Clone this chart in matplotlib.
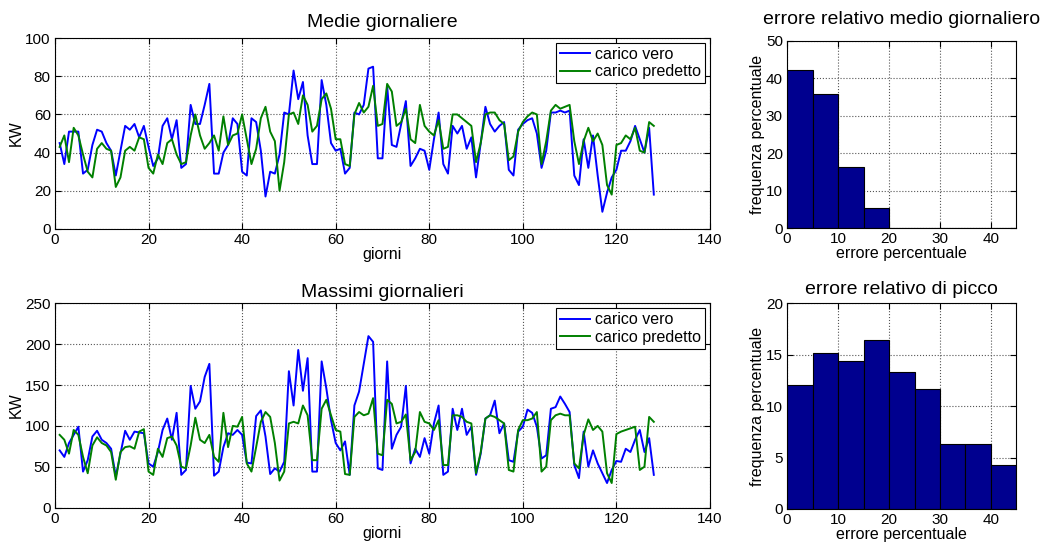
import matplotlib
matplotlib.use('Agg')
import matplotlib.pyplot as plt
import numpy as np

plt.rcParams['font.family'] = ['Liberation Sans', 'DejaVu Sans']

# Medie giornaliere (KW)
medie_vero = [45, 34, 51, 51, 51, 29, 31, 44, 52, 51, 45, 41, 28, 41, 54, 52, 55, 48, 54, 43,
              33, 37, 54, 58, 47, 57, 32, 34, 65, 55, 55, 65, 76, 29, 29, 40, 44, 58, 55, 30,
              28, 58, 56, 41, 17, 30, 29, 39, 61, 60, 83, 68, 77, 49, 34, 34, 78, 65, 45, 41,
              42, 29, 32, 61, 60, 65, 84, 85, 37, 37, 75, 44, 43, 55, 67, 33, 37, 42, 41, 31,
              47, 61, 34, 29, 54, 50, 54, 42, 48, 27, 45, 64, 55, 51, 54, 56, 31, 28, 52, 55,
              57, 58, 50, 32, 41, 61, 61, 62, 61, 62, 28, 23, 47, 32, 49, 28, 9, 19, 27, 31,
              41, 41, 46, 54, 47, 40, 53, 18]
medie_pred = [43, 49, 35, 53, 49, 39, 30, 27, 42, 45, 42, 41, 22, 27, 41, 43, 41, 48, 47, 32,
              29, 39, 34, 45, 47, 39, 34, 35, 49, 60, 49, 42, 45, 49, 41, 59, 44, 49, 50, 60,
              47, 34, 42, 58, 64, 51, 46, 20, 35, 60, 61, 55, 70, 65, 51, 54, 68, 71, 63, 47,
              47, 34, 33, 60, 66, 61, 64, 75, 54, 55, 76, 72, 54, 56, 63, 47, 45, 65, 54, 51,
              49, 57, 42, 43, 60, 60, 58, 56, 54, 35, 45, 60, 61, 61, 57, 55, 36, 38, 51, 56,
              59, 61, 60, 34, 46, 62, 65, 63, 64, 65, 46, 34, 46, 53, 46, 50, 44, 23, 18, 44,
              45, 49, 47, 53, 41, 40, 56, 54]

# Massimi giornalieri (KW)
massimi_vero = [70, 62, 79, 89, 99, 44, 58, 87, 94, 83, 79, 72, 38, 66, 94, 83, 93, 92, 91, 54,
                50, 68, 95, 109, 83, 116, 40, 46, 149, 121, 130, 160, 176, 39, 44, 74, 91, 89, 95, 89,
                55, 54, 112, 119, 87, 41, 48, 44, 56, 167, 125, 193, 143, 183, 44, 44, 179, 146, 107, 79,
                70, 81, 40, 125, 142, 176, 210, 203, 48, 46, 179, 72, 89, 99, 149, 54, 72, 62, 85, 66,
                103, 125, 40, 44, 121, 95, 121, 89, 99, 40, 66, 109, 113, 131, 91, 103, 58, 56, 93, 99,
                120, 116, 99, 60, 64, 121, 123, 136, 127, 117, 52, 36, 93, 50, 70, 54, 42, 30, 46, 57,
                56, 72, 68, 83, 95, 68, 85, 40]
massimi_pred = [89, 83, 66, 95, 89, 62, 42, 76, 86, 79, 76, 68, 34, 68, 74, 75, 72, 93, 96, 44,
                40, 72, 62, 85, 87, 76, 50, 48, 76, 110, 83, 79, 89, 62, 56, 116, 74, 100, 99, 111,
                54, 44, 74, 105, 117, 111, 79, 33, 44, 103, 105, 103, 125, 113, 58, 58, 121, 132, 113, 95,
                93, 41, 40, 111, 117, 113, 115, 134, 66, 64, 132, 127, 103, 105, 114, 58, 68, 117, 105, 103,
                95, 107, 52, 52, 113, 113, 111, 105, 103, 42, 68, 109, 113, 111, 107, 103, 46, 44, 95, 107,
                107, 109, 117, 44, 50, 107, 113, 115, 113, 113, 54, 48, 89, 108, 95, 100, 93, 42, 30, 90,
                93, 95, 97, 99, 46, 50, 111, 105]

giorni = np.arange(1, len(medie_vero) + 1)

# istogrammi errore percentuale (bin da 5)
bin_edges = np.arange(0, 45, 5)
freq_medio = [42.2, 35.9, 16.4, 5.5, 0, 0, 0, 0, 0]
freq_picco = [12.1, 15.2, 14.4, 16.4, 13.3, 11.7, 6.3, 6.3, 4.3]

BLUE = '#0000FF'
GREEN = '#008000'
NAVY = '#00008F'
TICK = 11
LABEL = 11.5
TITLE = 14


def style(ax):
    ax.grid(True, linestyle=':', color='#555555', linewidth=0.8)
    ax.tick_params(direction='in', top=True, right=True, labelsize=TICK, length=4, pad=3)
    for s in ax.spines.values():
        s.set_linewidth(0.8)


def legenda(ax):
    leg = ax.legend(loc='upper right', fontsize=LABEL, fancybox=False, framealpha=1,
                    edgecolor='black', borderaxespad=0.3, handlelength=1.9,
                    handletextpad=0.3, borderpad=0.25, labelspacing=0.15)
    leg.get_frame().set_linewidth(0.8)


fig = plt.figure(figsize=(10.49, 5.47), dpi=100)

ax1 = fig.add_axes([0.0524, 0.5814, 0.6244, 0.349])
ax1.plot(giorni, medie_vero, color=BLUE, lw=1.4, label='carico vero')
ax1.plot(giorni, medie_pred, color=GREEN, lw=1.4, label='carico predetto')
ax1.set_xlim(0, 140)
ax1.set_ylim(0, 100)
ax1.set_xticks(range(0, 141, 20))
ax1.set_yticks(range(0, 101, 20))
ax1.set_title('Medie giornaliere', fontsize=TITLE, pad=8)
ax1.set_xlabel('giorni', fontsize=LABEL, labelpad=0)
ax1.set_ylabel('KW', fontsize=LABEL, labelpad=1)
style(ax1)
legenda(ax1)

ax2 = fig.add_axes([0.0524, 0.0722, 0.6244, 0.373])
ax2.plot(giorni, massimi_vero, color=BLUE, lw=1.4, label='carico vero')
ax2.plot(giorni, massimi_pred, color=GREEN, lw=1.4, label='carico predetto')
ax2.set_xlim(0, 140)
ax2.set_ylim(0, 250)
ax2.set_xticks(range(0, 141, 20))
ax2.set_yticks(range(0, 251, 50))
ax2.set_title('Massimi giornalieri', fontsize=TITLE, pad=5)
ax2.set_xlabel('giorni', fontsize=LABEL, labelpad=0)
ax2.set_ylabel('KW', fontsize=LABEL, labelpad=1)
style(ax2)
legenda(ax2)

ax3 = fig.add_axes([0.7503, 0.5826, 0.2187, 0.343])
ax3.bar(bin_edges, freq_medio, width=5, align='edge', color=NAVY, edgecolor='black', linewidth=0.8)
ax3.set_xlim(0, 45)
ax3.set_ylim(0, 50)
ax3.set_xticks(range(0, 41, 10))
ax3.set_yticks(range(0, 51, 10))
ax3.set_axisbelow(True)
ax3.set_title('errore relativo medio giornaliero', fontsize=TITLE, pad=12)
ax3.set_xlabel('errore percentuale', fontsize=LABEL, labelpad=0)
ax3.set_ylabel('frequenza percentuale', fontsize=LABEL, labelpad=1)
style(ax3)

ax4 = fig.add_axes([0.7503, 0.0695, 0.2187, 0.376])
ax4.bar(bin_edges, freq_picco, width=5, align='edge', color=NAVY, edgecolor='black', linewidth=0.8)
ax4.set_xlim(0, 45)
ax4.set_ylim(0, 20)
ax4.set_xticks(range(0, 41, 10))
ax4.set_yticks(range(0, 21, 5))
ax4.set_axisbelow(True)
ax4.set_title('errore relativo di picco', fontsize=TITLE, pad=7)
ax4.set_xlabel('errore percentuale', fontsize=LABEL, labelpad=0)
ax4.set_ylabel('frequenza percentuale', fontsize=LABEL, labelpad=1)
style(ax4)

fig.savefig('out.png', dpi=100)
